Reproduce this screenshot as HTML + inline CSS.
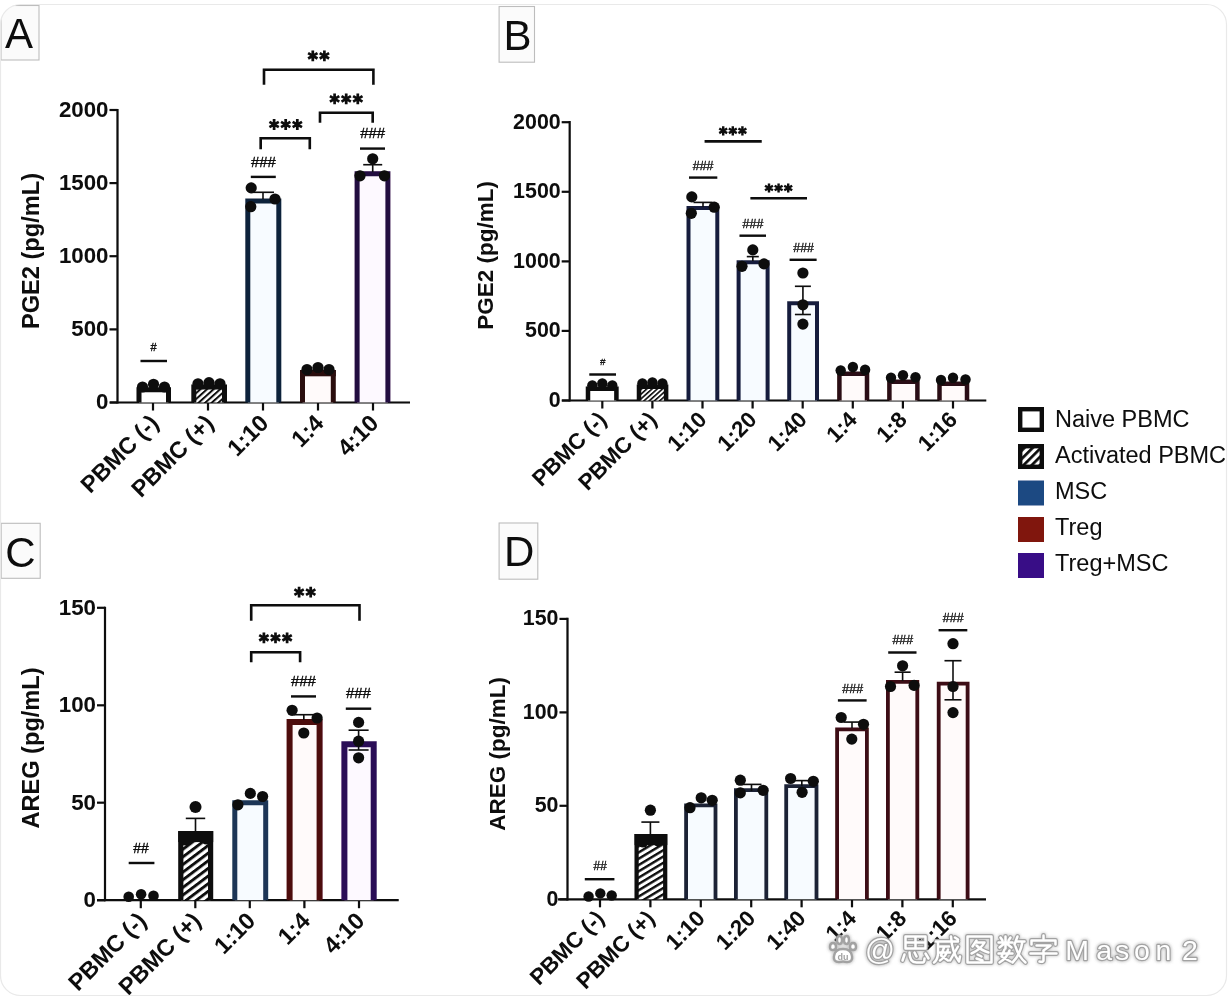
<!DOCTYPE html>
<html><head><meta charset="utf-8"><title>Figure</title>
<style>html,body{margin:0;padding:0;background:#ffffff;}svg{display:block;}text{font-family:"Liberation Sans",sans-serif;}</style>
</head><body>
<svg width="1229" height="996" viewBox="0 0 1229 996">
<defs>
<pattern id="hatch" patternUnits="userSpaceOnUse" width="6.1" height="6.1" patternTransform="rotate(-37)"><rect width="6.1" height="6.1" fill="#ffffff"/><rect y="0" width="6.1" height="2.9" fill="#0a0a0a"/></pattern>
<pattern id="hatchS" patternUnits="userSpaceOnUse" width="4.4" height="4.4" patternTransform="rotate(-42)"><rect width="4.4" height="4.4" fill="#ffffff"/><rect y="0" width="4.4" height="2.0" fill="#0a0a0a"/></pattern>
<pattern id="hatchB" patternUnits="userSpaceOnUse" width="3.5" height="3.5" patternTransform="rotate(-42)"><rect width="3.5" height="3.5" fill="#ffffff"/><rect y="0" width="3.5" height="1.6" fill="#0a0a0a"/></pattern>
<pattern id="hatchD" patternUnits="userSpaceOnUse" width="5.4" height="5.4" patternTransform="rotate(-31)"><rect width="5.4" height="5.4" fill="#ffffff"/><rect y="0" width="5.4" height="2.4" fill="#0a0a0a"/></pattern>
<filter id="wmblur" x="-5%" y="-30%" width="110%" height="160%"><feGaussianBlur stdDeviation="0.5"/></filter>
<filter id="wmshadow" x="-5%" y="-40%" width="110%" height="180%"><feGaussianBlur stdDeviation="1.8"/></filter>
</defs>
<rect width="1229" height="996" fill="#ffffff"/>
<clipPath id="frameclip"><rect x="0.5" y="4.5" width="1226" height="991" rx="20" ry="20"/></clipPath>
<filter id="soft" x="0" y="0" width="100%" height="100%" filterUnits="userSpaceOnUse"><feGaussianBlur stdDeviation="0.55"/></filter>
<g clip-path="url(#frameclip)"><g filter="url(#soft)">
<line x1="117.5" y1="108.9" x2="117.5" y2="403.6" stroke="#0a0a0a" stroke-width="2.2" stroke-linecap="butt"/>
<line x1="110.0" y1="402.5" x2="410.0" y2="402.5" stroke="#0a0a0a" stroke-width="2.2" stroke-linecap="butt"/>
<line x1="109.5" y1="110.0" x2="117.5" y2="110.0" stroke="#0a0a0a" stroke-width="2.2" stroke-linecap="butt"/>
<text x="108.5" y="116.8" font-size="22.3" font-weight="bold" text-anchor="end" fill="#0a0a0a" >2000</text>
<line x1="109.5" y1="183.1" x2="117.5" y2="183.1" stroke="#0a0a0a" stroke-width="2.2" stroke-linecap="butt"/>
<text x="108.5" y="190.0" font-size="22.3" font-weight="bold" text-anchor="end" fill="#0a0a0a" >1500</text>
<line x1="109.5" y1="256.2" x2="117.5" y2="256.2" stroke="#0a0a0a" stroke-width="2.2" stroke-linecap="butt"/>
<text x="108.5" y="263.1" font-size="22.3" font-weight="bold" text-anchor="end" fill="#0a0a0a" >1000</text>
<line x1="109.5" y1="329.4" x2="117.5" y2="329.4" stroke="#0a0a0a" stroke-width="2.2" stroke-linecap="butt"/>
<text x="108.5" y="336.2" font-size="22.3" font-weight="bold" text-anchor="end" fill="#0a0a0a" >500</text>
<line x1="109.5" y1="402.5" x2="117.5" y2="402.5" stroke="#0a0a0a" stroke-width="2.2" stroke-linecap="butt"/>
<text x="108.5" y="409.3" font-size="22.3" font-weight="bold" text-anchor="end" fill="#0a0a0a" >0</text>
<line x1="153.0" y1="402.5" x2="153.0" y2="410.5" stroke="#0a0a0a" stroke-width="2.2" stroke-linecap="butt"/>
<line x1="208.0" y1="402.5" x2="208.0" y2="410.5" stroke="#0a0a0a" stroke-width="2.2" stroke-linecap="butt"/>
<line x1="263.0" y1="402.5" x2="263.0" y2="410.5" stroke="#0a0a0a" stroke-width="2.2" stroke-linecap="butt"/>
<line x1="318.0" y1="402.5" x2="318.0" y2="410.5" stroke="#0a0a0a" stroke-width="2.2" stroke-linecap="butt"/>
<line x1="373.0" y1="402.5" x2="373.0" y2="410.5" stroke="#0a0a0a" stroke-width="2.2" stroke-linecap="butt"/>
<text x="160.0" y="424.5" font-size="23.4" font-weight="bold" text-anchor="end" fill="#0a0a0a" transform="rotate(-45 160.0 424.5)" >PBMC (-)</text>
<text x="215.0" y="424.5" font-size="23.4" font-weight="bold" text-anchor="end" fill="#0a0a0a" transform="rotate(-45 215.0 424.5)" >PBMC (+)</text>
<text x="270.0" y="424.5" font-size="23.4" font-weight="bold" text-anchor="end" fill="#0a0a0a" transform="rotate(-45 270.0 424.5)" >1:10</text>
<text x="325.0" y="424.5" font-size="23.4" font-weight="bold" text-anchor="end" fill="#0a0a0a" transform="rotate(-45 325.0 424.5)" >1:4</text>
<text x="380.0" y="424.5" font-size="23.4" font-weight="bold" text-anchor="end" fill="#0a0a0a" transform="rotate(-45 380.0 424.5)" >4:10</text>
<text x="39.0" y="251.0" font-size="23.6" font-weight="bold" text-anchor="middle" fill="#0a0a0a" transform="rotate(-90 39.0 251.0)" >PGE2 (pg/mL)</text>
<rect x="139.0" y="389.8" width="29.5" height="12.7" fill="#ffffff"/>
<path d="M139.0 402.5V389.8H168.5V402.5" fill="none" stroke="#0a0a0a" stroke-width="5" stroke-linejoin="miter"/>
<rect x="193.8" y="387.0" width="30.7" height="15.5" fill="url(#hatchS)"/>
<path d="M193.8 402.5V387.0H224.5V402.5" fill="none" stroke="#0a0a0a" stroke-width="5" stroke-linejoin="miter"/>
<rect x="247.8" y="201.1" width="31.0" height="201.4" fill="#f7fbff"/>
<path d="M247.8 402.5V201.1H278.8V402.5" fill="none" stroke="#10243a" stroke-width="5" stroke-linejoin="miter"/>
<rect x="302.5" y="372.5" width="30.8" height="30.0" fill="#fffafa"/>
<path d="M302.5 402.5V372.5H333.3V402.5" fill="none" stroke="#2a0c0e" stroke-width="5" stroke-linejoin="miter"/>
<rect x="300.0" y="370.0" width="35.8" height="6.3" fill="#2a0c0e"/>
<rect x="357.1" y="173.8" width="30.8" height="228.7" fill="#fdf9ff"/>
<path d="M357.1 402.5V173.8H387.9V402.5" fill="none" stroke="#21083f" stroke-width="5" stroke-linejoin="miter"/>
<line x1="263.0" y1="192.3" x2="263.0" y2="199.0" stroke="#0a0a0a" stroke-width="1.6" stroke-linecap="butt"/>
<line x1="252.0" y1="192.3" x2="274.0" y2="192.3" stroke="#0a0a0a" stroke-width="1.6" stroke-linecap="butt"/>
<line x1="372.7" y1="164.7" x2="372.7" y2="172.0" stroke="#0a0a0a" stroke-width="1.6" stroke-linecap="butt"/>
<line x1="363.2" y1="164.7" x2="382.2" y2="164.7" stroke="#0a0a0a" stroke-width="1.6" stroke-linecap="butt"/>
<circle cx="142.5" cy="387.0" r="5.6" fill="#0a0a0a"/>
<circle cx="198.0" cy="383.8" r="5.6" fill="#0a0a0a"/>
<circle cx="307.0" cy="369.5" r="5.6" fill="#0a0a0a"/>
<circle cx="153.5" cy="384.3" r="5.6" fill="#0a0a0a"/>
<circle cx="209.0" cy="382.6" r="5.6" fill="#0a0a0a"/>
<circle cx="318.0" cy="367.5" r="5.6" fill="#0a0a0a"/>
<circle cx="164.5" cy="387.0" r="5.6" fill="#0a0a0a"/>
<circle cx="220.0" cy="383.8" r="5.6" fill="#0a0a0a"/>
<circle cx="329.0" cy="369.5" r="5.6" fill="#0a0a0a"/>
<circle cx="251.2" cy="187.9" r="5.6" fill="#0a0a0a"/>
<circle cx="275.0" cy="199.0" r="5.6" fill="#0a0a0a"/>
<circle cx="250.8" cy="206.7" r="5.6" fill="#0a0a0a"/>
<circle cx="372.7" cy="158.8" r="5.6" fill="#0a0a0a"/>
<circle cx="360.0" cy="175.8" r="5.6" fill="#0a0a0a"/>
<circle cx="384.4" cy="175.8" r="5.6" fill="#0a0a0a"/>
<text x="153.6" y="350.5" font-size="11" font-weight="normal" text-anchor="middle" fill="#0a0a0a" stroke="#0a0a0a" stroke-width="0.35">#</text>
<line x1="140.5" y1="361.0" x2="167.0" y2="361.0" stroke="#0a0a0a" stroke-width="2.4" stroke-linecap="butt"/>
<text x="263.4" y="167.4" font-size="15" font-weight="normal" text-anchor="middle" fill="#0a0a0a" stroke="#0a0a0a" stroke-width="0.35">###</text>
<line x1="250.8" y1="176.9" x2="275.8" y2="176.9" stroke="#0a0a0a" stroke-width="2.4" stroke-linecap="butt"/>
<text x="372.7" y="138.1" font-size="15" font-weight="normal" text-anchor="middle" fill="#0a0a0a" stroke="#0a0a0a" stroke-width="0.35">###</text>
<line x1="360.0" y1="148.6" x2="385.0" y2="148.6" stroke="#0a0a0a" stroke-width="2.4" stroke-linecap="butt"/>
<path d="M264.0 84.8 V69.8 H373.4 V84.8" fill="none" stroke="#0a0a0a" stroke-width="2.6" stroke-linejoin="miter"/>
<path d="M312.80 50.40L312.80 61.20M308.12 53.10L317.48 58.50M317.48 53.10L308.12 58.50" stroke="#0a0a0a" stroke-width="2.7" stroke-linecap="butt" fill="none"/>
<path d="M324.40 50.40L324.40 61.20M319.72 53.10L329.08 58.50M329.08 53.10L319.72 58.50" stroke="#0a0a0a" stroke-width="2.7" stroke-linecap="butt" fill="none"/>
<path d="M320.0 122.8 V112.8 H372.7 V122.8" fill="none" stroke="#0a0a0a" stroke-width="2.6" stroke-linejoin="miter"/>
<path d="M334.60 93.50L334.60 104.30M329.92 96.20L339.28 101.60M339.28 96.20L329.92 101.60" stroke="#0a0a0a" stroke-width="2.7" stroke-linecap="butt" fill="none"/>
<path d="M346.20 93.50L346.20 104.30M341.52 96.20L350.88 101.60M350.88 96.20L341.52 101.60" stroke="#0a0a0a" stroke-width="2.7" stroke-linecap="butt" fill="none"/>
<path d="M357.80 93.50L357.80 104.30M353.12 96.20L362.48 101.60M362.48 96.20L353.12 101.60" stroke="#0a0a0a" stroke-width="2.7" stroke-linecap="butt" fill="none"/>
<path d="M260.7 149.2 V138.2 H309.8 V149.2" fill="none" stroke="#0a0a0a" stroke-width="2.6" stroke-linejoin="miter"/>
<path d="M274.10 119.10L274.10 129.90M269.42 121.80L278.78 127.20M278.78 121.80L269.42 127.20" stroke="#0a0a0a" stroke-width="2.7" stroke-linecap="butt" fill="none"/>
<path d="M285.70 119.10L285.70 129.90M281.02 121.80L290.38 127.20M290.38 121.80L281.02 127.20" stroke="#0a0a0a" stroke-width="2.7" stroke-linecap="butt" fill="none"/>
<path d="M297.30 119.10L297.30 129.90M292.62 121.80L301.98 127.20M301.98 121.80L292.62 127.20" stroke="#0a0a0a" stroke-width="2.7" stroke-linecap="butt" fill="none"/>
<rect x="1" y="5.5" width="38" height="54.5" fill="#fbfbfb" stroke="#bdbdbd" stroke-width="1.1"/>
<text x="19.0" y="48.2" font-size="42" font-weight="normal" text-anchor="middle" fill="#0a0a0a" >A</text>
<line x1="569.7" y1="121.1" x2="569.7" y2="401.6" stroke="#0a0a0a" stroke-width="2.2" stroke-linecap="butt"/>
<line x1="562.0" y1="400.5" x2="986.3" y2="400.5" stroke="#0a0a0a" stroke-width="2.2" stroke-linecap="butt"/>
<line x1="561.7" y1="122.2" x2="569.7" y2="122.2" stroke="#0a0a0a" stroke-width="2.2" stroke-linecap="butt"/>
<text x="560.7" y="128.7" font-size="21.4" font-weight="bold" text-anchor="end" fill="#0a0a0a" >2000</text>
<line x1="561.7" y1="191.8" x2="569.7" y2="191.8" stroke="#0a0a0a" stroke-width="2.2" stroke-linecap="butt"/>
<text x="560.7" y="198.3" font-size="21.4" font-weight="bold" text-anchor="end" fill="#0a0a0a" >1500</text>
<line x1="561.7" y1="261.4" x2="569.7" y2="261.4" stroke="#0a0a0a" stroke-width="2.2" stroke-linecap="butt"/>
<text x="560.7" y="267.9" font-size="21.4" font-weight="bold" text-anchor="end" fill="#0a0a0a" >1000</text>
<line x1="561.7" y1="330.9" x2="569.7" y2="330.9" stroke="#0a0a0a" stroke-width="2.2" stroke-linecap="butt"/>
<text x="560.7" y="337.4" font-size="21.4" font-weight="bold" text-anchor="end" fill="#0a0a0a" >500</text>
<line x1="561.7" y1="400.5" x2="569.7" y2="400.5" stroke="#0a0a0a" stroke-width="2.2" stroke-linecap="butt"/>
<text x="560.7" y="407.0" font-size="21.4" font-weight="bold" text-anchor="end" fill="#0a0a0a" >0</text>
<line x1="602.3" y1="400.5" x2="602.3" y2="408.5" stroke="#0a0a0a" stroke-width="2.2" stroke-linecap="butt"/>
<line x1="652.4" y1="400.5" x2="652.4" y2="408.5" stroke="#0a0a0a" stroke-width="2.2" stroke-linecap="butt"/>
<line x1="702.5" y1="400.5" x2="702.5" y2="408.5" stroke="#0a0a0a" stroke-width="2.2" stroke-linecap="butt"/>
<line x1="752.6" y1="400.5" x2="752.6" y2="408.5" stroke="#0a0a0a" stroke-width="2.2" stroke-linecap="butt"/>
<line x1="802.7" y1="400.5" x2="802.7" y2="408.5" stroke="#0a0a0a" stroke-width="2.2" stroke-linecap="butt"/>
<line x1="852.8" y1="400.5" x2="852.8" y2="408.5" stroke="#0a0a0a" stroke-width="2.2" stroke-linecap="butt"/>
<line x1="902.9" y1="400.5" x2="902.9" y2="408.5" stroke="#0a0a0a" stroke-width="2.2" stroke-linecap="butt"/>
<line x1="953.0" y1="400.5" x2="953.0" y2="408.5" stroke="#0a0a0a" stroke-width="2.2" stroke-linecap="butt"/>
<text x="607.8" y="421.0" font-size="22.3" font-weight="bold" text-anchor="end" fill="#0a0a0a" transform="rotate(-45 607.8 421.0)" >PBMC (-)</text>
<text x="657.9" y="421.0" font-size="22.3" font-weight="bold" text-anchor="end" fill="#0a0a0a" transform="rotate(-45 657.9 421.0)" >PBMC (+)</text>
<text x="708.0" y="421.0" font-size="22.3" font-weight="bold" text-anchor="end" fill="#0a0a0a" transform="rotate(-45 708.0 421.0)" >1:10</text>
<text x="758.1" y="421.0" font-size="22.3" font-weight="bold" text-anchor="end" fill="#0a0a0a" transform="rotate(-45 758.1 421.0)" >1:20</text>
<text x="808.2" y="421.0" font-size="22.3" font-weight="bold" text-anchor="end" fill="#0a0a0a" transform="rotate(-45 808.2 421.0)" >1:40</text>
<text x="858.3" y="421.0" font-size="22.3" font-weight="bold" text-anchor="end" fill="#0a0a0a" transform="rotate(-45 858.3 421.0)" >1:4</text>
<text x="908.4" y="421.0" font-size="22.3" font-weight="bold" text-anchor="end" fill="#0a0a0a" transform="rotate(-45 908.4 421.0)" >1:8</text>
<text x="958.5" y="421.0" font-size="22.3" font-weight="bold" text-anchor="end" fill="#0a0a0a" transform="rotate(-45 958.5 421.0)" >1:16</text>
<text x="492.6" y="255.4" font-size="22.5" font-weight="bold" text-anchor="middle" fill="#0a0a0a" transform="rotate(-90 492.6 255.4)" >PGE2 (pg/mL)</text>
<rect x="588.0" y="388.8" width="28.3" height="11.8" fill="#ffffff"/>
<path d="M588.0 400.5V388.8H616.4V400.5" fill="none" stroke="#0a0a0a" stroke-width="4.5" stroke-linejoin="miter"/>
<rect x="639.0" y="386.8" width="27.1" height="13.8" fill="url(#hatchB)"/>
<path d="M639.0 400.5V386.8H666.1V400.5" fill="none" stroke="#0a0a0a" stroke-width="4.5" stroke-linejoin="miter"/>
<rect x="688.5" y="208.0" width="28.8" height="192.5" fill="#f7fbff"/>
<path d="M688.5 400.5V208.0H717.3V400.5" fill="none" stroke="#171f3e" stroke-width="4" stroke-linejoin="miter"/>
<rect x="738.6" y="262.2" width="29.0" height="138.3" fill="#f7fbff"/>
<path d="M738.6 400.5V262.2H767.6V400.5" fill="none" stroke="#171f3e" stroke-width="4" stroke-linejoin="miter"/>
<rect x="789.2" y="303.2" width="27.8" height="97.3" fill="#f7fbff"/>
<path d="M789.2 400.5V303.2H817.0V400.5" fill="none" stroke="#171f3e" stroke-width="4" stroke-linejoin="miter"/>
<rect x="839.4" y="373.8" width="27.6" height="26.8" fill="#fffafa"/>
<path d="M839.4 400.5V373.8H867.0V400.5" fill="none" stroke="#2a0f12" stroke-width="4.5" stroke-linejoin="miter"/>
<rect x="889.4" y="381.8" width="28.0" height="18.8" fill="#fffafa"/>
<path d="M889.4 400.5V381.8H917.4V400.5" fill="none" stroke="#2a0f12" stroke-width="4.5" stroke-linejoin="miter"/>
<rect x="939.5" y="383.8" width="27.5" height="16.8" fill="#fffafa"/>
<path d="M939.5 400.5V383.8H967.0V400.5" fill="none" stroke="#2a0f12" stroke-width="4.5" stroke-linejoin="miter"/>
<line x1="703.0" y1="202.4" x2="703.0" y2="207.0" stroke="#0a0a0a" stroke-width="1.6" stroke-linecap="butt"/>
<line x1="693.5" y1="202.4" x2="712.5" y2="202.4" stroke="#0a0a0a" stroke-width="1.6" stroke-linecap="butt"/>
<line x1="752.8" y1="256.6" x2="752.8" y2="261.0" stroke="#0a0a0a" stroke-width="1.6" stroke-linecap="butt"/>
<line x1="746.8" y1="256.6" x2="758.8" y2="256.6" stroke="#0a0a0a" stroke-width="1.6" stroke-linecap="butt"/>
<line x1="802.9" y1="286.3" x2="802.9" y2="314.5" stroke="#0a0a0a" stroke-width="1.6" stroke-linecap="butt"/>
<line x1="794.9" y1="286.3" x2="810.9" y2="286.3" stroke="#0a0a0a" stroke-width="1.6" stroke-linecap="butt"/>
<line x1="794.9" y1="314.5" x2="810.9" y2="314.5" stroke="#0a0a0a" stroke-width="1.6" stroke-linecap="butt"/>
<circle cx="592.3" cy="385.5" r="5.2" fill="#0a0a0a"/>
<circle cx="642.4" cy="383.5" r="5.2" fill="#0a0a0a"/>
<circle cx="602.3" cy="383.5" r="5.2" fill="#0a0a0a"/>
<circle cx="652.4" cy="382.5" r="5.2" fill="#0a0a0a"/>
<circle cx="612.3" cy="385.5" r="5.2" fill="#0a0a0a"/>
<circle cx="662.4" cy="383.5" r="5.2" fill="#0a0a0a"/>
<circle cx="840.7" cy="370.5" r="5.2" fill="#0a0a0a"/>
<circle cx="852.9" cy="367.0" r="5.2" fill="#0a0a0a"/>
<circle cx="865.1" cy="369.7" r="5.2" fill="#0a0a0a"/>
<circle cx="891.0" cy="377.8" r="5.2" fill="#0a0a0a"/>
<circle cx="903.0" cy="375.2" r="5.2" fill="#0a0a0a"/>
<circle cx="915.5" cy="377.3" r="5.2" fill="#0a0a0a"/>
<circle cx="941.0" cy="380.0" r="5.2" fill="#0a0a0a"/>
<circle cx="953.0" cy="377.8" r="5.2" fill="#0a0a0a"/>
<circle cx="965.5" cy="379.5" r="5.2" fill="#0a0a0a"/>
<circle cx="691.8" cy="196.9" r="5.6" fill="#0a0a0a"/>
<circle cx="714.2" cy="207.2" r="5.6" fill="#0a0a0a"/>
<circle cx="691.3" cy="213.3" r="5.6" fill="#0a0a0a"/>
<circle cx="752.8" cy="249.9" r="5.6" fill="#0a0a0a"/>
<circle cx="742.0" cy="266.3" r="5.6" fill="#0a0a0a"/>
<circle cx="764.0" cy="263.9" r="5.6" fill="#0a0a0a"/>
<circle cx="802.9" cy="273.0" r="5.6" fill="#0a0a0a"/>
<circle cx="802.9" cy="304.8" r="5.6" fill="#0a0a0a"/>
<circle cx="802.9" cy="324.1" r="5.6" fill="#0a0a0a"/>
<text x="602.6" y="365.4" font-size="9.5" font-weight="normal" text-anchor="middle" fill="#0a0a0a" font-style="italic" stroke="#0a0a0a" stroke-width="0.3">#</text>
<line x1="589.3" y1="374.5" x2="616.0" y2="374.5" stroke="#0a0a0a" stroke-width="2.4" stroke-linecap="butt"/>
<text x="702.9" y="169.5" font-size="12.5" font-weight="normal" text-anchor="middle" fill="#0a0a0a" font-style="italic" stroke="#0a0a0a" stroke-width="0.3">###</text>
<line x1="689.0" y1="177.6" x2="717.3" y2="177.6" stroke="#0a0a0a" stroke-width="2.4" stroke-linecap="butt"/>
<text x="752.8" y="227.9" font-size="12.5" font-weight="normal" text-anchor="middle" fill="#0a0a0a" font-style="italic" stroke="#0a0a0a" stroke-width="0.3">###</text>
<line x1="739.5" y1="235.7" x2="766.0" y2="235.7" stroke="#0a0a0a" stroke-width="2.4" stroke-linecap="butt"/>
<text x="803.4" y="251.5" font-size="12.5" font-weight="normal" text-anchor="middle" fill="#0a0a0a" font-style="italic" stroke="#0a0a0a" stroke-width="0.3">###</text>
<line x1="789.6" y1="259.8" x2="816.6" y2="259.8" stroke="#0a0a0a" stroke-width="2.4" stroke-linecap="butt"/>
<line x1="704.6" y1="141.4" x2="761.7" y2="141.4" stroke="#0a0a0a" stroke-width="2.6" stroke-linecap="butt"/>
<path d="M723.20 126.20L723.20 135.40M719.22 128.50L727.18 133.10M727.18 128.50L719.22 133.10" stroke="#0a0a0a" stroke-width="2.4" stroke-linecap="butt" fill="none"/>
<path d="M732.80 126.20L732.80 135.40M728.82 128.50L736.78 133.10M736.78 128.50L728.82 133.10" stroke="#0a0a0a" stroke-width="2.4" stroke-linecap="butt" fill="none"/>
<path d="M742.40 126.20L742.40 135.40M738.42 128.50L746.38 133.10M746.38 128.50L738.42 133.10" stroke="#0a0a0a" stroke-width="2.4" stroke-linecap="butt" fill="none"/>
<line x1="750.4" y1="198.3" x2="807.0" y2="198.3" stroke="#0a0a0a" stroke-width="2.6" stroke-linecap="butt"/>
<path d="M769.00 183.40L769.00 192.60M765.02 185.70L772.98 190.30M772.98 185.70L765.02 190.30" stroke="#0a0a0a" stroke-width="2.4" stroke-linecap="butt" fill="none"/>
<path d="M778.60 183.40L778.60 192.60M774.62 185.70L782.58 190.30M782.58 185.70L774.62 190.30" stroke="#0a0a0a" stroke-width="2.4" stroke-linecap="butt" fill="none"/>
<path d="M788.20 183.40L788.20 192.60M784.22 185.70L792.18 190.30M792.18 185.70L784.22 190.30" stroke="#0a0a0a" stroke-width="2.4" stroke-linecap="butt" fill="none"/>
<rect x="499.1" y="6.5" width="35.4" height="55.7" fill="#fbfbfb" stroke="#bdbdbd" stroke-width="1.1"/>
<text x="517.6" y="49.6" font-size="42" font-weight="normal" text-anchor="middle" fill="#0a0a0a" >B</text>
<line x1="105.0" y1="606.7" x2="105.0" y2="901.3" stroke="#0a0a0a" stroke-width="2.2" stroke-linecap="butt"/>
<line x1="97.0" y1="900.2" x2="398.7" y2="900.2" stroke="#0a0a0a" stroke-width="2.2" stroke-linecap="butt"/>
<line x1="97.0" y1="607.8" x2="105.0" y2="607.8" stroke="#0a0a0a" stroke-width="2.2" stroke-linecap="butt"/>
<text x="96.0" y="614.6" font-size="22.3" font-weight="bold" text-anchor="end" fill="#0a0a0a" >150</text>
<line x1="97.0" y1="705.3" x2="105.0" y2="705.3" stroke="#0a0a0a" stroke-width="2.2" stroke-linecap="butt"/>
<text x="96.0" y="712.1" font-size="22.3" font-weight="bold" text-anchor="end" fill="#0a0a0a" >100</text>
<line x1="97.0" y1="802.7" x2="105.0" y2="802.7" stroke="#0a0a0a" stroke-width="2.2" stroke-linecap="butt"/>
<text x="96.0" y="809.6" font-size="22.3" font-weight="bold" text-anchor="end" fill="#0a0a0a" >50</text>
<line x1="97.0" y1="900.2" x2="105.0" y2="900.2" stroke="#0a0a0a" stroke-width="2.2" stroke-linecap="butt"/>
<text x="96.0" y="907.0" font-size="22.3" font-weight="bold" text-anchor="end" fill="#0a0a0a" >0</text>
<line x1="140.8" y1="900.2" x2="140.8" y2="908.2" stroke="#0a0a0a" stroke-width="2.2" stroke-linecap="butt"/>
<line x1="195.3" y1="900.2" x2="195.3" y2="908.2" stroke="#0a0a0a" stroke-width="2.2" stroke-linecap="butt"/>
<line x1="249.8" y1="900.2" x2="249.8" y2="908.2" stroke="#0a0a0a" stroke-width="2.2" stroke-linecap="butt"/>
<line x1="304.4" y1="900.2" x2="304.4" y2="908.2" stroke="#0a0a0a" stroke-width="2.2" stroke-linecap="butt"/>
<line x1="359.0" y1="900.2" x2="359.0" y2="908.2" stroke="#0a0a0a" stroke-width="2.2" stroke-linecap="butt"/>
<text x="147.8" y="922.2" font-size="23.4" font-weight="bold" text-anchor="end" fill="#0a0a0a" transform="rotate(-45 147.8 922.2)" >PBMC (-)</text>
<text x="202.3" y="922.2" font-size="23.4" font-weight="bold" text-anchor="end" fill="#0a0a0a" transform="rotate(-45 202.3 922.2)" >PBMC (+)</text>
<text x="256.8" y="922.2" font-size="23.4" font-weight="bold" text-anchor="end" fill="#0a0a0a" transform="rotate(-45 256.8 922.2)" >1:10</text>
<text x="311.4" y="922.2" font-size="23.4" font-weight="bold" text-anchor="end" fill="#0a0a0a" transform="rotate(-45 311.4 922.2)" >1:4</text>
<text x="366.0" y="922.2" font-size="23.4" font-weight="bold" text-anchor="end" fill="#0a0a0a" transform="rotate(-45 366.0 922.2)" >4:10</text>
<text x="39.0" y="748.0" font-size="23.6" font-weight="bold" text-anchor="middle" fill="#0a0a0a" transform="rotate(-90 39.0 748.0)" >AREG (pg/mL)</text>
<rect x="180.8" y="833.7" width="29.8" height="66.5" fill="url(#hatch)"/>
<path d="M180.8 900.2V833.7H210.6V900.2" fill="none" stroke="#0a0a0a" stroke-width="5.2" stroke-linejoin="miter"/>
<rect x="178.2" y="831.1" width="35.0" height="11" fill="#0a0a0a"/>
<rect x="234.8" y="802.7" width="30.9" height="97.5" fill="#f7fbff"/>
<path d="M234.8 900.2V802.7H265.7V900.2" fill="none" stroke="#1d3656" stroke-width="5" stroke-linejoin="miter"/>
<rect x="289.6" y="722.1" width="30.0" height="178.1" fill="#fffafa"/>
<path d="M289.6 900.2V722.1H319.6V900.2" fill="none" stroke="#4d0b0c" stroke-width="6" stroke-linejoin="miter"/>
<rect x="344.4" y="744.2" width="29.3" height="156.0" fill="#fdf9ff"/>
<path d="M344.4 900.2V744.2H373.7V900.2" fill="none" stroke="#2c0b57" stroke-width="6" stroke-linejoin="miter"/>
<line x1="195.5" y1="818.4" x2="195.5" y2="832.0" stroke="#0a0a0a" stroke-width="1.6" stroke-linecap="butt"/>
<line x1="185.8" y1="818.4" x2="205.2" y2="818.4" stroke="#0a0a0a" stroke-width="1.6" stroke-linecap="butt"/>
<line x1="303.8" y1="714.7" x2="303.8" y2="720.0" stroke="#0a0a0a" stroke-width="1.6" stroke-linecap="butt"/>
<line x1="293.8" y1="714.7" x2="313.8" y2="714.7" stroke="#0a0a0a" stroke-width="1.6" stroke-linecap="butt"/>
<line x1="358.6" y1="730.2" x2="358.6" y2="750.0" stroke="#0a0a0a" stroke-width="1.6" stroke-linecap="butt"/>
<line x1="348.6" y1="730.2" x2="368.6" y2="730.2" stroke="#0a0a0a" stroke-width="1.6" stroke-linecap="butt"/>
<line x1="348.6" y1="750.0" x2="368.6" y2="750.0" stroke="#0a0a0a" stroke-width="1.6" stroke-linecap="butt"/>
<circle cx="128.7" cy="896.8" r="5.3" fill="#0a0a0a"/>
<circle cx="141.1" cy="894.2" r="5.3" fill="#0a0a0a"/>
<circle cx="153.5" cy="895.8" r="5.3" fill="#0a0a0a"/>
<circle cx="195.5" cy="807.0" r="6" fill="#0a0a0a"/>
<circle cx="185.3" cy="840.0" r="5.6" fill="#0a0a0a"/>
<circle cx="206.5" cy="839.0" r="5.6" fill="#0a0a0a"/>
<circle cx="237.9" cy="804.8" r="5.6" fill="#0a0a0a"/>
<circle cx="250.3" cy="793.4" r="5.6" fill="#0a0a0a"/>
<circle cx="262.6" cy="796.5" r="5.6" fill="#0a0a0a"/>
<circle cx="292.1" cy="710.3" r="5.6" fill="#0a0a0a"/>
<circle cx="317.1" cy="718.0" r="5.6" fill="#0a0a0a"/>
<circle cx="303.8" cy="733.0" r="5.6" fill="#0a0a0a"/>
<circle cx="358.6" cy="722.4" r="5.6" fill="#0a0a0a"/>
<circle cx="358.6" cy="741.2" r="5.6" fill="#0a0a0a"/>
<circle cx="358.6" cy="757.8" r="5.6" fill="#0a0a0a"/>
<text x="141.1" y="853.1" font-size="14" font-weight="normal" text-anchor="middle" fill="#0a0a0a" stroke="#0a0a0a" stroke-width="0.35">##</text>
<line x1="128.7" y1="863.0" x2="154.4" y2="863.0" stroke="#0a0a0a" stroke-width="2.4" stroke-linecap="butt"/>
<text x="303.4" y="685.8" font-size="15" font-weight="normal" text-anchor="middle" fill="#0a0a0a" stroke="#0a0a0a" stroke-width="0.35">###</text>
<line x1="291.0" y1="696.4" x2="316.0" y2="696.4" stroke="#0a0a0a" stroke-width="2.4" stroke-linecap="butt"/>
<text x="358.4" y="698.0" font-size="15" font-weight="normal" text-anchor="middle" fill="#0a0a0a" stroke="#0a0a0a" stroke-width="0.35">###</text>
<line x1="345.8" y1="708.7" x2="371.2" y2="708.7" stroke="#0a0a0a" stroke-width="2.4" stroke-linecap="butt"/>
<path d="M251.2 620.8 V605.3 H359.5 V620.8" fill="none" stroke="#0a0a0a" stroke-width="2.6" stroke-linejoin="miter"/>
<path d="M299.10 586.70L299.10 597.50M294.42 589.40L303.78 594.80M303.78 589.40L294.42 594.80" stroke="#0a0a0a" stroke-width="2.7" stroke-linecap="butt" fill="none"/>
<path d="M310.70 586.70L310.70 597.50M306.02 589.40L315.38 594.80M315.38 589.40L306.02 594.80" stroke="#0a0a0a" stroke-width="2.7" stroke-linecap="butt" fill="none"/>
<path d="M251.2 662.2 V652.2 H300.1 V662.2" fill="none" stroke="#0a0a0a" stroke-width="2.6" stroke-linejoin="miter"/>
<path d="M263.90 632.40L263.90 643.20M259.22 635.10L268.58 640.50M268.58 635.10L259.22 640.50" stroke="#0a0a0a" stroke-width="2.7" stroke-linecap="butt" fill="none"/>
<path d="M275.50 632.40L275.50 643.20M270.82 635.10L280.18 640.50M280.18 635.10L270.82 640.50" stroke="#0a0a0a" stroke-width="2.7" stroke-linecap="butt" fill="none"/>
<path d="M287.10 632.40L287.10 643.20M282.42 635.10L291.78 640.50M291.78 635.10L282.42 640.50" stroke="#0a0a0a" stroke-width="2.7" stroke-linecap="butt" fill="none"/>
<rect x="1.2" y="523.3" width="39" height="55" fill="#fbfbfb" stroke="#bdbdbd" stroke-width="1.1"/>
<text x="20.4" y="566.6" font-size="42" font-weight="normal" text-anchor="middle" fill="#0a0a0a" >C</text>
<line x1="567.5" y1="617.8" x2="567.5" y2="900.4" stroke="#0a0a0a" stroke-width="2.2" stroke-linecap="butt"/>
<line x1="558.0" y1="899.3" x2="986.0" y2="899.3" stroke="#0a0a0a" stroke-width="2.2" stroke-linecap="butt"/>
<line x1="559.5" y1="618.9" x2="567.5" y2="618.9" stroke="#0a0a0a" stroke-width="2.2" stroke-linecap="butt"/>
<text x="558.5" y="625.4" font-size="21.4" font-weight="bold" text-anchor="end" fill="#0a0a0a" >150</text>
<line x1="559.5" y1="712.4" x2="567.5" y2="712.4" stroke="#0a0a0a" stroke-width="2.2" stroke-linecap="butt"/>
<text x="558.5" y="718.9" font-size="21.4" font-weight="bold" text-anchor="end" fill="#0a0a0a" >100</text>
<line x1="559.5" y1="805.8" x2="567.5" y2="805.8" stroke="#0a0a0a" stroke-width="2.2" stroke-linecap="butt"/>
<text x="558.5" y="812.3" font-size="21.4" font-weight="bold" text-anchor="end" fill="#0a0a0a" >50</text>
<line x1="559.5" y1="899.3" x2="567.5" y2="899.3" stroke="#0a0a0a" stroke-width="2.2" stroke-linecap="butt"/>
<text x="558.5" y="905.8" font-size="21.4" font-weight="bold" text-anchor="end" fill="#0a0a0a" >0</text>
<line x1="600.0" y1="899.3" x2="600.0" y2="907.3" stroke="#0a0a0a" stroke-width="2.2" stroke-linecap="butt"/>
<line x1="650.4" y1="899.3" x2="650.4" y2="907.3" stroke="#0a0a0a" stroke-width="2.2" stroke-linecap="butt"/>
<line x1="700.8" y1="899.3" x2="700.8" y2="907.3" stroke="#0a0a0a" stroke-width="2.2" stroke-linecap="butt"/>
<line x1="751.2" y1="899.3" x2="751.2" y2="907.3" stroke="#0a0a0a" stroke-width="2.2" stroke-linecap="butt"/>
<line x1="801.6" y1="899.3" x2="801.6" y2="907.3" stroke="#0a0a0a" stroke-width="2.2" stroke-linecap="butt"/>
<line x1="852.0" y1="899.3" x2="852.0" y2="907.3" stroke="#0a0a0a" stroke-width="2.2" stroke-linecap="butt"/>
<line x1="902.4" y1="899.3" x2="902.4" y2="907.3" stroke="#0a0a0a" stroke-width="2.2" stroke-linecap="butt"/>
<line x1="952.8" y1="899.3" x2="952.8" y2="907.3" stroke="#0a0a0a" stroke-width="2.2" stroke-linecap="butt"/>
<text x="605.5" y="919.8" font-size="22.3" font-weight="bold" text-anchor="end" fill="#0a0a0a" transform="rotate(-45 605.5 919.8)" >PBMC (-)</text>
<text x="655.9" y="919.8" font-size="22.3" font-weight="bold" text-anchor="end" fill="#0a0a0a" transform="rotate(-45 655.9 919.8)" >PBMC (+)</text>
<text x="706.3" y="919.8" font-size="22.3" font-weight="bold" text-anchor="end" fill="#0a0a0a" transform="rotate(-45 706.3 919.8)" >1:10</text>
<text x="756.7" y="919.8" font-size="22.3" font-weight="bold" text-anchor="end" fill="#0a0a0a" transform="rotate(-45 756.7 919.8)" >1:20</text>
<text x="807.1" y="919.8" font-size="22.3" font-weight="bold" text-anchor="end" fill="#0a0a0a" transform="rotate(-45 807.1 919.8)" >1:40</text>
<text x="857.5" y="919.8" font-size="22.3" font-weight="bold" text-anchor="end" fill="#0a0a0a" transform="rotate(-45 857.5 919.8)" >1:4</text>
<text x="907.9" y="919.8" font-size="22.3" font-weight="bold" text-anchor="end" fill="#0a0a0a" transform="rotate(-45 907.9 919.8)" >1:8</text>
<text x="958.3" y="919.8" font-size="22.3" font-weight="bold" text-anchor="end" fill="#0a0a0a" transform="rotate(-45 958.3 919.8)" >1:16</text>
<text x="504.8" y="753.8" font-size="22.5" font-weight="bold" text-anchor="middle" fill="#0a0a0a" transform="rotate(-90 504.8 753.8)" >AREG (pg/mL)</text>
<rect x="636.6" y="836.2" width="28.6" height="63.1" fill="url(#hatchD)"/>
<path d="M636.6 899.3V836.2H665.2V899.3" fill="none" stroke="#0a0a0a" stroke-width="4.2" stroke-linejoin="miter"/>
<rect x="634.5" y="834.1" width="32.8" height="11" fill="#0a0a0a"/>
<rect x="686.1" y="805.4" width="29.4" height="93.9" fill="#f7fbff"/>
<path d="M686.1 899.3V805.4H715.5V899.3" fill="none" stroke="#1a2236" stroke-width="3.8" stroke-linejoin="miter"/>
<rect x="735.9" y="790.1" width="30.4" height="109.2" fill="#f7fbff"/>
<path d="M735.9 899.3V790.1H766.3V899.3" fill="none" stroke="#1a2236" stroke-width="3.8" stroke-linejoin="miter"/>
<rect x="786.2" y="786.1" width="30.3" height="113.2" fill="#f7fbff"/>
<path d="M786.2 899.3V786.1H816.5V899.3" fill="none" stroke="#1a2236" stroke-width="3.8" stroke-linejoin="miter"/>
<rect x="837.1" y="729.3" width="29.8" height="170.0" fill="#fffafa"/>
<path d="M837.1 899.3V729.3H866.9V899.3" fill="none" stroke="#3d0a12" stroke-width="3.8" stroke-linejoin="miter"/>
<rect x="887.9" y="681.8" width="29.4" height="217.5" fill="#fffafa"/>
<path d="M887.9 899.3V681.8H917.3V899.3" fill="none" stroke="#3d0a12" stroke-width="3.8" stroke-linejoin="miter"/>
<rect x="938.7" y="683.6" width="28.9" height="215.7" fill="#fffafa"/>
<path d="M938.7 899.3V683.6H967.6V899.3" fill="none" stroke="#3d0a12" stroke-width="3.8" stroke-linejoin="miter"/>
<line x1="650.4" y1="822.1" x2="650.4" y2="835.0" stroke="#0a0a0a" stroke-width="1.6" stroke-linecap="butt"/>
<line x1="641.4" y1="822.1" x2="659.4" y2="822.1" stroke="#0a0a0a" stroke-width="1.6" stroke-linecap="butt"/>
<line x1="751.5" y1="784.4" x2="751.5" y2="791.0" stroke="#0a0a0a" stroke-width="1.6" stroke-linecap="butt"/>
<line x1="741.5" y1="784.4" x2="761.5" y2="784.4" stroke="#0a0a0a" stroke-width="1.6" stroke-linecap="butt"/>
<line x1="801.8" y1="780.6" x2="801.8" y2="786.0" stroke="#0a0a0a" stroke-width="1.6" stroke-linecap="butt"/>
<line x1="791.8" y1="780.6" x2="811.8" y2="780.6" stroke="#0a0a0a" stroke-width="1.6" stroke-linecap="butt"/>
<line x1="852.0" y1="722.1" x2="852.0" y2="728.0" stroke="#0a0a0a" stroke-width="1.6" stroke-linecap="butt"/>
<line x1="843.7" y1="722.1" x2="860.3" y2="722.1" stroke="#0a0a0a" stroke-width="1.6" stroke-linecap="butt"/>
<line x1="902.6" y1="672.2" x2="902.6" y2="681.0" stroke="#0a0a0a" stroke-width="1.6" stroke-linecap="butt"/>
<line x1="894.6" y1="672.2" x2="910.6" y2="672.2" stroke="#0a0a0a" stroke-width="1.6" stroke-linecap="butt"/>
<line x1="953.0" y1="660.7" x2="953.0" y2="699.8" stroke="#0a0a0a" stroke-width="1.6" stroke-linecap="butt"/>
<line x1="944.5" y1="660.7" x2="961.5" y2="660.7" stroke="#0a0a0a" stroke-width="1.6" stroke-linecap="butt"/>
<line x1="944.5" y1="699.8" x2="961.5" y2="699.8" stroke="#0a0a0a" stroke-width="1.6" stroke-linecap="butt"/>
<circle cx="588.6" cy="896.5" r="5.2" fill="#0a0a0a"/>
<circle cx="600.3" cy="893.4" r="5.2" fill="#0a0a0a"/>
<circle cx="611.7" cy="895.5" r="5.2" fill="#0a0a0a"/>
<circle cx="650.4" cy="810.2" r="5.6" fill="#0a0a0a"/>
<circle cx="643.0" cy="842.6" r="5" fill="#0a0a0a"/>
<circle cx="657.8" cy="841.5" r="5" fill="#0a0a0a"/>
<circle cx="690.0" cy="807.7" r="5.6" fill="#0a0a0a"/>
<circle cx="701.2" cy="797.8" r="5.6" fill="#0a0a0a"/>
<circle cx="712.2" cy="800.3" r="5.6" fill="#0a0a0a"/>
<circle cx="740.3" cy="780.2" r="5.6" fill="#0a0a0a"/>
<circle cx="740.3" cy="792.9" r="5.6" fill="#0a0a0a"/>
<circle cx="763.1" cy="790.3" r="5.6" fill="#0a0a0a"/>
<circle cx="790.6" cy="778.5" r="5.6" fill="#0a0a0a"/>
<circle cx="813.3" cy="781.3" r="5.6" fill="#0a0a0a"/>
<circle cx="802.1" cy="792.3" r="5.6" fill="#0a0a0a"/>
<circle cx="841.2" cy="717.5" r="5.6" fill="#0a0a0a"/>
<circle cx="863.5" cy="724.3" r="5.6" fill="#0a0a0a"/>
<circle cx="851.8" cy="739.1" r="5.6" fill="#0a0a0a"/>
<circle cx="902.6" cy="665.8" r="5.6" fill="#0a0a0a"/>
<circle cx="890.5" cy="686.5" r="5.6" fill="#0a0a0a"/>
<circle cx="914.1" cy="685.4" r="5.6" fill="#0a0a0a"/>
<circle cx="953.0" cy="643.7" r="5.6" fill="#0a0a0a"/>
<circle cx="953.0" cy="686.5" r="5.6" fill="#0a0a0a"/>
<circle cx="953.0" cy="712.6" r="5.6" fill="#0a0a0a"/>
<text x="600.0" y="870.2" font-size="12" font-weight="normal" text-anchor="middle" fill="#0a0a0a" font-style="italic" stroke="#0a0a0a" stroke-width="0.3">##</text>
<line x1="584.8" y1="879.2" x2="614.4" y2="879.2" stroke="#0a0a0a" stroke-width="2.4" stroke-linecap="butt"/>
<text x="852.5" y="692.8" font-size="12.5" font-weight="normal" text-anchor="middle" fill="#0a0a0a" font-style="italic" stroke="#0a0a0a" stroke-width="0.3">###</text>
<line x1="837.9" y1="700.4" x2="866.6" y2="700.4" stroke="#0a0a0a" stroke-width="2.4" stroke-linecap="butt"/>
<text x="902.6" y="644.2" font-size="12.5" font-weight="normal" text-anchor="middle" fill="#0a0a0a" font-style="italic" stroke="#0a0a0a" stroke-width="0.3">###</text>
<line x1="888.2" y1="652.5" x2="916.5" y2="652.5" stroke="#0a0a0a" stroke-width="2.4" stroke-linecap="butt"/>
<text x="953.0" y="622.1" font-size="12.5" font-weight="normal" text-anchor="middle" fill="#0a0a0a" font-style="italic" stroke="#0a0a0a" stroke-width="0.3">###</text>
<line x1="938.6" y1="630.2" x2="967.3" y2="630.2" stroke="#0a0a0a" stroke-width="2.4" stroke-linecap="butt"/>
<rect x="499.1" y="523" width="38.7" height="56.2" fill="#fbfbfb" stroke="#bdbdbd" stroke-width="1.1"/>
<text x="519.2" y="566.1" font-size="42" font-weight="normal" text-anchor="middle" fill="#0a0a0a" >D</text>
<defs><pattern id="hatchL" patternUnits="userSpaceOnUse" width="5.8" height="5.8" patternTransform="rotate(-45) translate(0 1.5)"><rect width="5.8" height="5.8" fill="#ffffff"/><rect y="0" width="5.8" height="2.7" fill="#0a0a0a"/></pattern></defs>
<rect x="1020.2" y="409.2" width="21.6" height="20.6" fill="#ffffff" stroke="#0a0a0a" stroke-width="4.4"/>
<rect x="1020.2" y="446.2" width="21.6" height="20.6" fill="url(#hatchL)" stroke="#0a0a0a" stroke-width="4.4"/>
<rect x="1018" y="480.5" width="26" height="25" fill="#1f4882"/>
<rect x="1018" y="517" width="26" height="25" fill="#80130f"/>
<rect x="1018" y="553" width="26" height="25" fill="#380a86"/>
<text x="1055.0" y="427.2" font-size="23.5" font-weight="normal" text-anchor="start" fill="#0a0a0a" >Naive PBMC</text>
<text x="1055.0" y="462.8" font-size="23.5" font-weight="normal" text-anchor="start" fill="#0a0a0a" >Activated PBMC</text>
<text x="1055.0" y="498.8" font-size="23.5" font-weight="normal" text-anchor="start" fill="#0a0a0a" >MSC</text>
<text x="1055.0" y="534.8" font-size="23.5" font-weight="normal" text-anchor="start" fill="#0a0a0a" >Treg</text>
<text x="1055.0" y="571.0" font-size="23.5" font-weight="normal" text-anchor="start" fill="#0a0a0a" >Treg+MSC</text>
<g filter="url(#wmshadow)" opacity="0.5">
<g transform="translate(900.5 934.5)" fill="none" stroke-linecap="round" stroke-linejoin="round"><path d="M5 2H25V14H5ZM15 2V14M5 8H25M4 20L2 26M9 18Q9 28 16 28L22 28Q24 28 24 24M14 18L16 22M25 19L28 24" stroke="#8c8c8c" stroke-width="5.5"/></g>
<g transform="translate(932.0 934.5)" fill="none" stroke-linecap="round" stroke-linejoin="round"><path d="M4 7H26M6 7V20Q5 26 2 28M19 2Q20 18 27 27L28 22M23 3L26 5M26 12L18 26M8 12H17M12 13L9 21L16 26M16 15Q14 22 8 26M8 18H18" stroke="#8c8c8c" stroke-width="5.5"/></g>
<g transform="translate(964.5 934.5)" fill="none" stroke-linecap="round" stroke-linejoin="round"><path d="M3 2H27V28H3ZM12 6L8 12M11 8H20Q16 15 7 19M12 11Q17 16 24 18M13 20L17 22M12 24L18 26" stroke="#8c8c8c" stroke-width="5.5"/></g>
<g transform="translate(996.5 934.5)" fill="none" stroke-linecap="round" stroke-linejoin="round"><path d="M9 2V14M2 8H16M4 3L6 6M14 3L12 6M9 8L3 13M9 8L15 13M8 15L5 22L14 27M13 16Q10 24 3 28M2 19H16M21 2L18 10M20 7H28M26 7Q24 20 16 28M19 12Q22 22 29 28" stroke="#8c8c8c" stroke-width="5.5"/></g>
<g transform="translate(1028.5 934.5)" fill="none" stroke-linecap="round" stroke-linejoin="round"><path d="M15 1V4M3 10V6H27V10M8 11H22L15 16M15 16V26Q15 28 11 27M2 19H28" stroke="#8c8c8c" stroke-width="5.5"/></g>
<g transform="translate(828 934)"><path d="M15 15Q7 15 6 22Q5 28 11 28Q15 27 19 28Q25 28 24 22Q23 15 15 15ZM5 9Q8 9 8 13Q8 16 5 16Q2 16 2 13Q2 9 5 9ZM11.5 2Q14 2 14 6Q14 10 11.5 10Q9 10 9 6Q9 2 11.5 2ZM18.5 2Q21 2 21 6Q21 10 18.5 10Q16 10 16 6Q16 2 18.5 2ZM25 9Q28 9 28 13Q28 16 25 16Q22 16 22 13Q22 9 25 9Z" fill="#8c8c8c" stroke="#8c8c8c" stroke-width="4.0"/></g>
<text x="880" y="959.5" font-size="29.5" text-anchor="middle" fill="#8c8c8c" stroke="#8c8c8c" stroke-width="4.0" paint-order="stroke" stroke-linejoin="round">@</text>
<text x="1077" y="960" font-size="28.5" text-anchor="middle" fill="#8c8c8c" stroke="#8c8c8c" stroke-width="4.0" paint-order="stroke" stroke-linejoin="round">M</text>
<text x="1104.2" y="960" font-size="28.5" text-anchor="middle" fill="#8c8c8c" stroke="#8c8c8c" stroke-width="4.0" paint-order="stroke" stroke-linejoin="round">a</text>
<text x="1122" y="960" font-size="28.5" text-anchor="middle" fill="#8c8c8c" stroke="#8c8c8c" stroke-width="4.0" paint-order="stroke" stroke-linejoin="round">s</text>
<text x="1142" y="960" font-size="28.5" text-anchor="middle" fill="#8c8c8c" stroke="#8c8c8c" stroke-width="4.0" paint-order="stroke" stroke-linejoin="round">o</text>
<text x="1163.5" y="960" font-size="28.5" text-anchor="middle" fill="#8c8c8c" stroke="#8c8c8c" stroke-width="4.0" paint-order="stroke" stroke-linejoin="round">n</text>
<text x="1190" y="960" font-size="28.5" text-anchor="middle" fill="#8c8c8c" stroke="#8c8c8c" stroke-width="4.0" paint-order="stroke" stroke-linejoin="round">2</text>
</g>
<g filter="url(#wmblur)">
<g transform="translate(900.5 934.5)" fill="none" stroke-linecap="round" stroke-linejoin="round"><path d="M5 2H25V14H5ZM15 2V14M5 8H25M4 20L2 26M9 18Q9 28 16 28L22 28Q24 28 24 24M14 18L16 22M25 19L28 24" stroke="#a2a2a2" stroke-width="4.8"/><path d="M5 2H25V14H5ZM15 2V14M5 8H25M4 20L2 26M9 18Q9 28 16 28L22 28Q24 28 24 24M14 18L16 22M25 19L28 24" stroke="#ffffff" stroke-width="2.5"/></g>
<g transform="translate(932.0 934.5)" fill="none" stroke-linecap="round" stroke-linejoin="round"><path d="M4 7H26M6 7V20Q5 26 2 28M19 2Q20 18 27 27L28 22M23 3L26 5M26 12L18 26M8 12H17M12 13L9 21L16 26M16 15Q14 22 8 26M8 18H18" stroke="#a2a2a2" stroke-width="4.8"/><path d="M4 7H26M6 7V20Q5 26 2 28M19 2Q20 18 27 27L28 22M23 3L26 5M26 12L18 26M8 12H17M12 13L9 21L16 26M16 15Q14 22 8 26M8 18H18" stroke="#ffffff" stroke-width="2.5"/></g>
<g transform="translate(964.5 934.5)" fill="none" stroke-linecap="round" stroke-linejoin="round"><path d="M3 2H27V28H3ZM12 6L8 12M11 8H20Q16 15 7 19M12 11Q17 16 24 18M13 20L17 22M12 24L18 26" stroke="#a2a2a2" stroke-width="4.8"/><path d="M3 2H27V28H3ZM12 6L8 12M11 8H20Q16 15 7 19M12 11Q17 16 24 18M13 20L17 22M12 24L18 26" stroke="#ffffff" stroke-width="2.5"/></g>
<g transform="translate(996.5 934.5)" fill="none" stroke-linecap="round" stroke-linejoin="round"><path d="M9 2V14M2 8H16M4 3L6 6M14 3L12 6M9 8L3 13M9 8L15 13M8 15L5 22L14 27M13 16Q10 24 3 28M2 19H16M21 2L18 10M20 7H28M26 7Q24 20 16 28M19 12Q22 22 29 28" stroke="#a2a2a2" stroke-width="4.8"/><path d="M9 2V14M2 8H16M4 3L6 6M14 3L12 6M9 8L3 13M9 8L15 13M8 15L5 22L14 27M13 16Q10 24 3 28M2 19H16M21 2L18 10M20 7H28M26 7Q24 20 16 28M19 12Q22 22 29 28" stroke="#ffffff" stroke-width="2.5"/></g>
<g transform="translate(1028.5 934.5)" fill="none" stroke-linecap="round" stroke-linejoin="round"><path d="M15 1V4M3 10V6H27V10M8 11H22L15 16M15 16V26Q15 28 11 27M2 19H28" stroke="#a2a2a2" stroke-width="4.8"/><path d="M15 1V4M3 10V6H27V10M8 11H22L15 16M15 16V26Q15 28 11 27M2 19H28" stroke="#ffffff" stroke-width="2.5"/></g>
<g transform="translate(828 934)"><path d="M15 15Q7 15 6 22Q5 28 11 28Q15 27 19 28Q25 28 24 22Q23 15 15 15ZM5 9Q8 9 8 13Q8 16 5 16Q2 16 2 13Q2 9 5 9ZM11.5 2Q14 2 14 6Q14 10 11.5 10Q9 10 9 6Q9 2 11.5 2ZM18.5 2Q21 2 21 6Q21 10 18.5 10Q16 10 16 6Q16 2 18.5 2ZM25 9Q28 9 28 13Q28 16 25 16Q22 16 22 13Q22 9 25 9Z" fill="#ffffff" stroke="#a2a2a2" stroke-width="2.4"/><text x="15" y="26" font-size="9" font-weight="bold" text-anchor="middle" fill="#a2a2a2">du</text></g>
<text x="880" y="959.5" font-size="29.5" text-anchor="middle" fill="#ffffff" stroke="#a2a2a2" stroke-width="2.4" paint-order="stroke" stroke-linejoin="round">@</text>
<text x="1077" y="960" font-size="28.5" text-anchor="middle" fill="#ffffff" stroke="#a2a2a2" stroke-width="2.4" paint-order="stroke" stroke-linejoin="round">M</text>
<text x="1104.2" y="960" font-size="28.5" text-anchor="middle" fill="#ffffff" stroke="#a2a2a2" stroke-width="2.4" paint-order="stroke" stroke-linejoin="round">a</text>
<text x="1122" y="960" font-size="28.5" text-anchor="middle" fill="#ffffff" stroke="#a2a2a2" stroke-width="2.4" paint-order="stroke" stroke-linejoin="round">s</text>
<text x="1142" y="960" font-size="28.5" text-anchor="middle" fill="#ffffff" stroke="#a2a2a2" stroke-width="2.4" paint-order="stroke" stroke-linejoin="round">o</text>
<text x="1163.5" y="960" font-size="28.5" text-anchor="middle" fill="#ffffff" stroke="#a2a2a2" stroke-width="2.4" paint-order="stroke" stroke-linejoin="round">n</text>
<text x="1190" y="960" font-size="28.5" text-anchor="middle" fill="#ffffff" stroke="#a2a2a2" stroke-width="2.4" paint-order="stroke" stroke-linejoin="round">2</text>
</g>
</g></g>
<rect x="0.5" y="4.5" width="1226" height="991" rx="20" ry="20" fill="none" stroke="#e9e9e9" stroke-width="1.2"/>
</svg>
</body></html>
